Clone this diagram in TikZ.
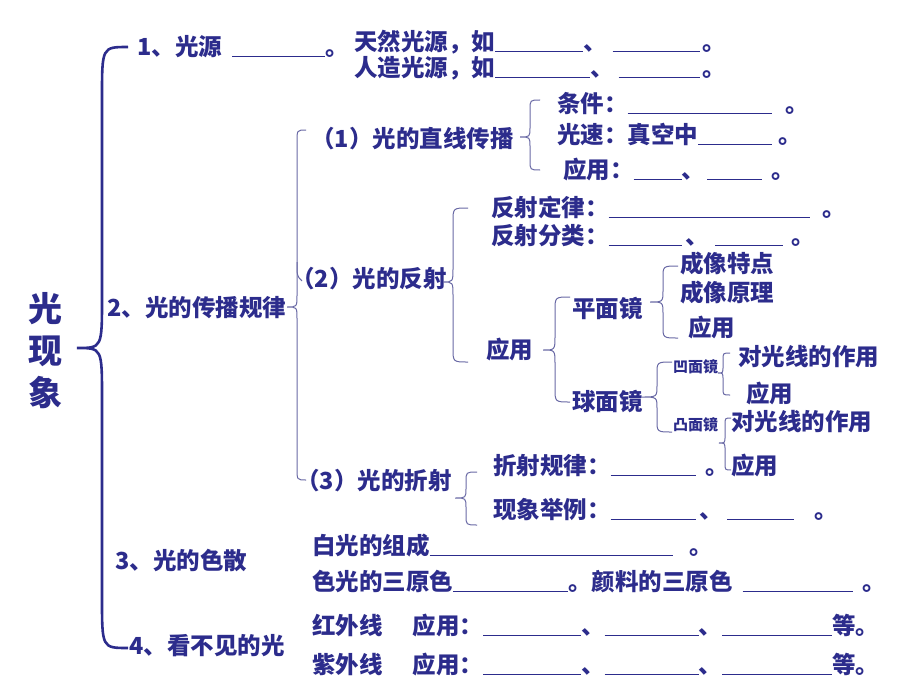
\documentclass[tikz,border=0pt]{standalone}
\usepackage{fontspec}
\setmainfont{Noto Sans CJK SC}
\usepackage{tikz}
\definecolor{textblue}{RGB}{44, 44, 140}
\definecolor{bracegray}{RGB}{105, 105, 165}

% blank line to fill in
\newcommand{\blank}[1]{\rule[-1.5pt]{#1pt}{1pt}}
% curly brace: x of stem, x of ends, y top, y bottom, x tip, y tip, curl size
\newcommand{\curlybrace}[8][]{%
  \draw[#1] (#3,#4) .. controls (#2,#4) .. (#2,#4+#8) -- (#2,#7-#8)
    .. controls (#2,#7) .. (#6,#7) .. controls (#2,#7) .. (#2,#7+#8)
    -- (#2,#5-#8) .. controls (#2,#5) .. (#3,#5);}

\begin{document}
\begin{tikzpicture}[
    x=1pt, y=-1pt,
    txt/.style={anchor=west, inner sep=0pt, text=textblue,
                font=\fontsize{23.5}{28}\selectfont\bfseries},
    smalltxt/.style={txt, font=\fontsize{15}{18}\selectfont\bfseries},
    bigtxt/.style={inner sep=0pt, text=textblue, align=center,
                   font=\fontsize{34}{42}\selectfont\bfseries},
    mainbrace/.style={draw=textblue, line width=2.6pt},
    thinbrace/.style={draw=bracegray, line width=1pt}
]
\fill[white] (0,0) rectangle (920,690);
\useasboundingbox (0,0) rectangle (920,690);

% Title
\node[bigtxt] (title) at (45,351) {光\\现\\象};

% 1 light sources
\node[txt] (src) at (137,47) {1、光源\hspace{10pt}\blank{93}。};
\node[txt] (srcnat) at (354,42) {天然光源，如\blank{88}、\hspace{6pt}\blank{87}\hspace{3pt}。};
\node[txt] (srcart) at (354,68) {人造光源，如\blank{95}、\hspace{5pt}\blank{81}\hspace{3pt}。};

% 2 propagation
\node[txt] (prop) at (107,308) {2、光的传播规律};

% (1) straight line
\node[txt] (line) at (311,139) {（1）光的直线传播};
\node[txt] (cond) at (557,104) {条件：\blank{144}\hspace{14pt}。};
\node[txt] (speed) at (557,134) {光速：真空中\blank{74}\hspace{6pt}。};
\node[txt] (lineapp) at (563,170) {应用：\blank{48}、\hspace{2pt}\blank{55}\hspace{9pt}。};

% (2) reflection
\node[txt] (refl) at (291,279) {（2）光的反射};
\node[txt] (law) at (491,207) {反射定律：\blank{201}\hspace{13pt}。};
\node[txt] (kind) at (491,236) {反射分类：\blank{73}\hspace{4pt}、\hspace{6pt}\blank{68}\hspace{8pt}。};
\node[txt] (reflapp) at (486,350) {应用};
\node[txt] (plane) at (572,308) {平面镜};
\node[txt] (pfeat) at (680,264) {成像特点};
\node[txt] (pprin) at (680,293) {成像原理};
\node[txt] (papp) at (688,328) {应用};
\node[txt] (sphere) at (572,401) {球面镜};
\node[smalltxt] (concave) at (673,367) {凹面镜};
\node[txt] (ccvfx) at (738,357) {对光线的作用};
\node[txt] (ccvapp) at (746,394) {应用};
\node[smalltxt] (convex) at (673,425) {凸面镜};
\node[txt] (cvxfx) at (731,422) {对光线的作用};
\node[txt] (cvxapp) at (731,466) {应用};

% (3) refraction
\node[txt] (refr) at (296,481) {（3）光的折射};
\node[txt] (refrlaw) at (493,466) {折射规律：\blank{85}\hspace{10pt}。};
\node[txt] (refrex) at (493,510) {现象举例：\blank{85}\hspace{4pt}、\hspace{4pt}\blank{67}\hspace{20pt}。};

% 3 dispersion
\node[txt] (disp) at (115,560) {3、光的色散};
\node[txt] (white) at (312,546) {白光的组成\blank{243}\hspace{17pt}。};
\node[txt] (prim) at (312,582) {色光的三原色\blank{115}。颜料的三原色\hspace{10pt}\blank{110}\hspace{10pt}。};

% 4 invisible light
\node[txt] (invis) at (129,646) {4、看不见的光};
\node[txt] (ir) at (312,626) {红外线\hspace{30pt}应用：\blank{98}、\blank{94}、\blank{110}等。};
\node[txt] (uv) at (312,665) {紫外线\hspace{30pt}应用：\blank{98}、\blank{94}、\blank{110}等。};

% Braces
\curlybrace[mainbrace]{102}{128}{47}{648}{77}{348}{50}
\curlybrace[thinbrace]{297}{306}{130}{480}{287}{307}{12}
\draw[thinbrace] (297,262) .. controls (297,276) .. (302,281);
\curlybrace[thinbrace]{530}{540}{100}{170}{520}{137}{10}
\curlybrace[thinbrace]{453}{468}{208}{362}{443}{282}{14}
\curlybrace[thinbrace]{555}{570}{297}{402}{543}{350}{14}
\curlybrace[thinbrace]{663}{678}{266}{338}{650}{302}{12}
\curlybrace[thinbrace]{657}{672}{362}{432}{642}{397}{12}
\curlybrace[thinbrace]{723}{730}{353}{395}{718}{373}{7}
\curlybrace[thinbrace]{725}{731}{418}{470}{719}{443}{7}
\curlybrace[thinbrace]{466}{477}{472}{525}{455}{498}{10}

\end{tikzpicture}
\end{document}
